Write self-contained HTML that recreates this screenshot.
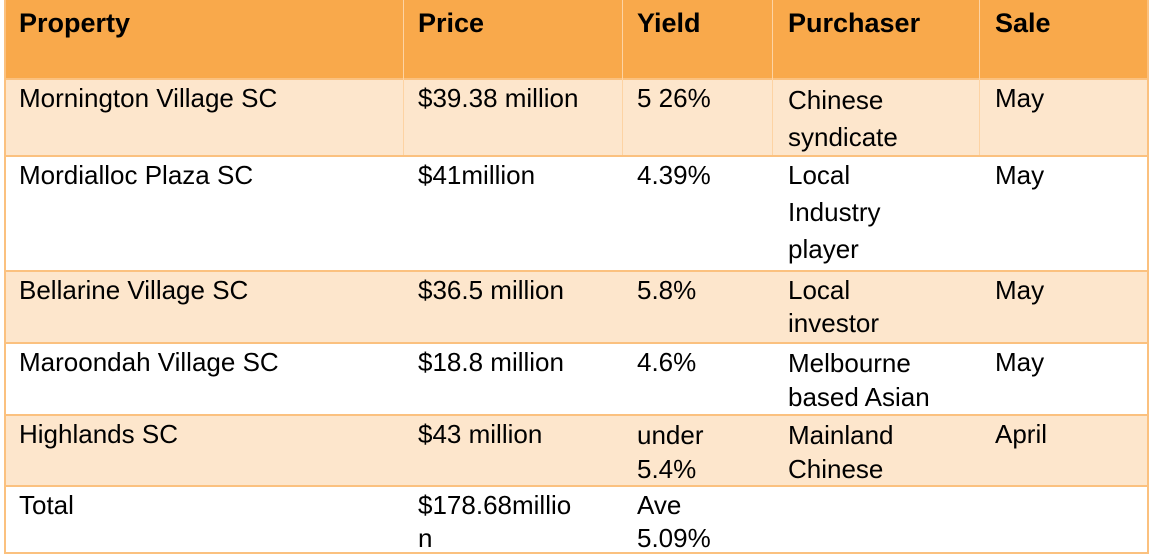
<!DOCTYPE html>
<html><head><meta charset="utf-8"><style>
body{margin:0;width:1154px;height:560px;background:#fff;overflow:hidden;font-family:"Liberation Sans",Arial,sans-serif;}
.t{position:absolute;left:4px;top:0;width:1145px;height:554px;border:2px solid #FBC17F;border-top:none;box-sizing:border-box;}
.r{position:absolute;left:4px;width:1145px;}
.c{position:absolute;top:0;height:100%;box-sizing:border-box;padding-left:15px;font-size:26px;line-height:37px;color:#000;}
.h .c{font-weight:bold;font-size:27px;line-height:46px;color:#000}
.h{background:#F9A94B}
.s{background:#FDE6CC}
.sep{position:absolute;left:4px;width:1145px;height:2px;background:#FBC17F}
.v{position:absolute;width:1px;background:rgba(255,255,255,.5)}
</style></head><body>
<div class="r h" style="top:0;height:79px">
<div class="c" style="left:0">Property</div>
<div class="c" style="left:399px">Price</div>
<div class="c" style="left:618px">Yield</div>
<div class="c" style="left:769px">Purchaser</div>
<div class="c" style="left:976px">Sale</div>
</div>
<div class="sep" style="top:78px"></div>
<div class="r s" style="top:80px;height:75px">
<div class="c" style="left:0">Mornington Village SC</div>
<div class="c" style="left:399px">$39.38 million</div>
<div class="c" style="left:618px">5 26%</div>
<div class="c" style="left:769px;top:2px">Chinese<br>syndicate</div>
<div class="c" style="left:976px">May</div>
</div>
<div class="sep" style="top:155px"></div>
<div class="r" style="top:157px;height:113px">
<div class="c" style="left:0">Mordialloc Plaza SC</div>
<div class="c" style="left:399px">$41million</div>
<div class="c" style="left:618px">4.39%</div>
<div class="c" style="left:769px">Local<br>Industry<br>player</div>
<div class="c" style="left:976px">May</div>
</div>
<div class="sep" style="top:270px"></div>
<div class="r s" style="top:272px;height:70px">
<div class="c" style="left:0;line-height:36px">Bellarine Village SC</div>
<div class="c" style="left:399px;line-height:36px">$36.5 million</div>
<div class="c" style="left:618px;line-height:36px">5.8%</div>
<div class="c" style="left:769px;line-height:33px;top:2px">Local<br>investor</div>
<div class="c" style="left:976px;line-height:36px">May</div>
</div>
<div class="sep" style="top:342px"></div>
<div class="r" style="top:344px;height:70px">
<div class="c" style="left:0">Maroondah Village SC</div>
<div class="c" style="left:399px">$18.8 million</div>
<div class="c" style="left:618px">4.6%</div>
<div class="c" style="left:769px;line-height:34px;top:2px">Melbourne<br>based Asian</div>
<div class="c" style="left:976px">May</div>
</div>
<div class="sep" style="top:414px"></div>
<div class="r s" style="top:416px;height:69px">
<div class="c" style="left:0">Highlands SC</div>
<div class="c" style="left:399px">$43 million</div>
<div class="c" style="left:618px;line-height:34px;top:2px">under<br>5.4%</div>
<div class="c" style="left:769px;line-height:34px;top:2px">Mainland<br>Chinese</div>
<div class="c" style="left:976px">April</div>
</div>
<div class="sep" style="top:485px"></div>
<div class="r" style="top:487px;height:66px">
<div class="c" style="left:0">Total</div>
<div class="c" style="left:399px;line-height:33px;top:2px">$178.68millio<br>n</div>
<div class="c" style="left:618px;line-height:33px;top:2px">Ave<br>5.09%</div>
</div>
<div class="t"></div>
<div class="v" style="left:403px;top:0;height:155px;background:#FDD3A3"></div>
<div class="v" style="left:622px;top:0;height:155px;background:#FDD3A3"></div>
<div class="v" style="left:772px;top:0;height:155px;background:#FDD3A3"></div>
<div class="v" style="left:979px;top:0;height:155px;background:#FDD3A3"></div>
</body></html>
